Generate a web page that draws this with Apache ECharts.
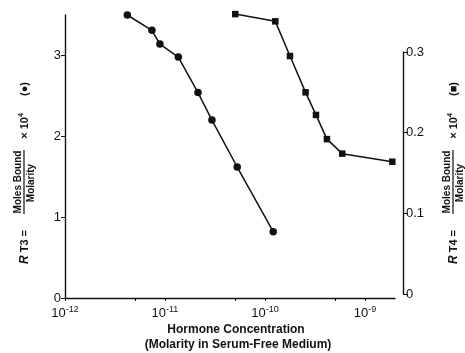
<!DOCTYPE html>
<html>
<head>
<meta charset="utf-8">
<script src="https://cdn.jsdelivr.net/npm/echarts@6/dist/echarts.min.js"></script>
<style>
  html, body { margin: 0; padding: 0; background: #fff; }
  #chart { width: 465px; height: 353px; }
</style>
</head>
<body>
<div id="chart"></div>
<script>
// RT3, circles, left axis
const rt3Conc = [4.2e-12, 7.4e-12, 8.9e-12, 1.36e-11, 2.14e-11, 2.95e-11, 5.28e-11, 1.21e-10];
const rt3Values = [3.50, 3.31, 3.14, 2.98, 2.54, 2.20, 1.62, 0.82];
// RT4, squares, right axis
const rt4Conc = [5.05e-11, 1.27e-10, 1.78e-10, 2.55e-10, 3.24e-10, 4.17e-10, 5.93e-10, 1.88e-9];
const rt4Values = [0.347, 0.338, 0.295, 0.250, 0.222, 0.192, 0.174, 0.164];

const xLabelValues = [1e-12, 1e-11, 1e-10, 1e-9];
const xTickValues = [1e-12, 5e-12, 1e-11, 5e-11, 1e-10, 5e-10, 1e-9];
const leftTicks = [0, 1, 2, 3];

const ink = '#111';
const font = 'Liberation Sans';

const chart = echarts.init(document.getElementById('chart'));

// rotated y-axis title: R Tx = (Moles Bound / Molarity) x 10^4 (marker)
function axisTitle(x, y, name, marker) {
  const bold = { fontFamily: font, fontWeight: 'bold', fill: ink };
  return {
    type: 'group', x: x, y: y, rotation: Math.PI / 2,
    children: [
      { type: 'text', x: -75, y: 1, style: Object.assign({
          text: '{i|R} ' + name + ' =', fontSize: 11, align: 'center', verticalAlign: 'middle',
          rich: { i: { fontFamily: font, fontWeight: 'bold', fontStyle: 'italic', fontSize: 12, fill: ink } }
        }, bold) },
      { type: 'line', shape: { x1: -42, y1: 0, x2: 22, y2: 0 }, style: { stroke: ink, lineWidth: 1.2 } },
      { type: 'text', x: -10, y: -1, style: Object.assign({
          text: 'Moles Bound', fontSize: 10, align: 'center', verticalAlign: 'bottom' }, bold) },
      { type: 'text', x: -11, y: 2, style: Object.assign({
          text: 'Molarity', fontSize: 10, align: 'center', verticalAlign: 'top' }, bold) },
      { type: 'text', x: 46, y: 1, style: Object.assign({
          text: '× 10{s|4}', fontSize: 11, align: 'center', verticalAlign: 'middle',
          rich: { s: { fontFamily: font, fontWeight: 'bold', fontSize: 7, fill: ink, padding: [0, 0, 8, 0] } }
        }, bold) },
      { type: 'text', x: 83, y: 1, style: Object.assign({
          text: '(' + marker + ')', fontSize: 11, align: 'center', verticalAlign: 'middle' }, bold) }
    ]
  };
}

const option = {
  animation: false,
  backgroundColor: '#fff',
  grid: [
    { left: 65, right: 70, top: 15, bottom: 55 },
    { left: 65, right: 70, top: 52, bottom: 59 }
  ],
  xAxis: [
    {
      type: 'log', gridIndex: 0, logBase: 10, min: 1e-12, max: 2e-9,
      axisLine: { lineStyle: { color: ink, width: 1.4 } },
      axisTick: { customValues: xTickValues, length: 3, lineStyle: { color: ink, width: 1 } },
      axisLabel: {
        customValues: xLabelValues, margin: 7,
        formatter: v => '{b|10}{s|' + Math.round(Math.log10(v)) + '}',
        rich: {
          b: { fontFamily: font, fontSize: 13, color: ink },
          s: { fontFamily: font, fontSize: 9, color: ink, padding: [0, 0, 8, 0] }
        }
      },
      splitLine: { show: false },
      minorTick: { show: false }
    },
    { type: 'log', gridIndex: 1, logBase: 10, min: 1e-12, max: 2e-9, show: false }
  ],
  yAxis: [
    {
      type: 'value', gridIndex: 0, min: 0, max: 3.5, interval: 1,
      axisLine: { show: true, lineStyle: { color: ink, width: 1.4 } },
      axisTick: { show: true, customValues: leftTicks, length: 4, lineStyle: { color: ink } },
      axisLabel: { customValues: leftTicks, fontFamily: font, fontSize: 13, color: ink, margin: 4 },
      splitLine: { show: false }
    },
    {
      type: 'value', gridIndex: 1, position: 'right', offset: 8, min: 0, max: 0.3, interval: 0.1,
      axisLine: { show: true, lineStyle: { color: ink, width: 1.4 } },
      axisTick: { show: true, length: 5, lineStyle: { color: ink } },
      axisLabel: {
        fontFamily: font, fontSize: 13, color: ink, margin: 3,
        formatter: v => v === 0 ? '0' : v.toFixed(1)
      },
      splitLine: { show: false }
    }
  ],
  series: [
    {
      name: 'RT3', type: 'line', xAxisIndex: 0, yAxisIndex: 0,
      data: rt3Conc.map((c, i) => [c, rt3Values[i]]),
      symbol: 'circle', symbolSize: 7.5,
      itemStyle: { color: ink },
      lineStyle: { color: ink, width: 1.5 }
    },
    {
      name: 'RT4', type: 'line', xAxisIndex: 1, yAxisIndex: 1, clip: false,
      data: rt4Conc.map((c, i) => [c, rt4Values[i]]),
      symbol: 'rect', symbolSize: 6.5,
      itemStyle: { color: ink },
      lineStyle: { color: ink, width: 1.5 }
    }
  ],
  graphic: [
    axisTitle(24, 172, 'T3', '●'),
    axisTitle(453, 172, 'T4', '■'),
    { type: 'text', x: 236, y: 330, style: { text: 'Hormone Concentration', fontFamily: font,
        fontWeight: 'bold', fontSize: 12, fill: ink, align: 'center', verticalAlign: 'middle' } },
    { type: 'text', x: 238, y: 345, style: { text: '(Molarity in Serum-Free Medium)', fontFamily: font,
        fontWeight: 'bold', fontSize: 12, fill: ink, align: 'center', verticalAlign: 'middle' } }
  ]
};

chart.setOption(option);
</script>
</body>
</html>
